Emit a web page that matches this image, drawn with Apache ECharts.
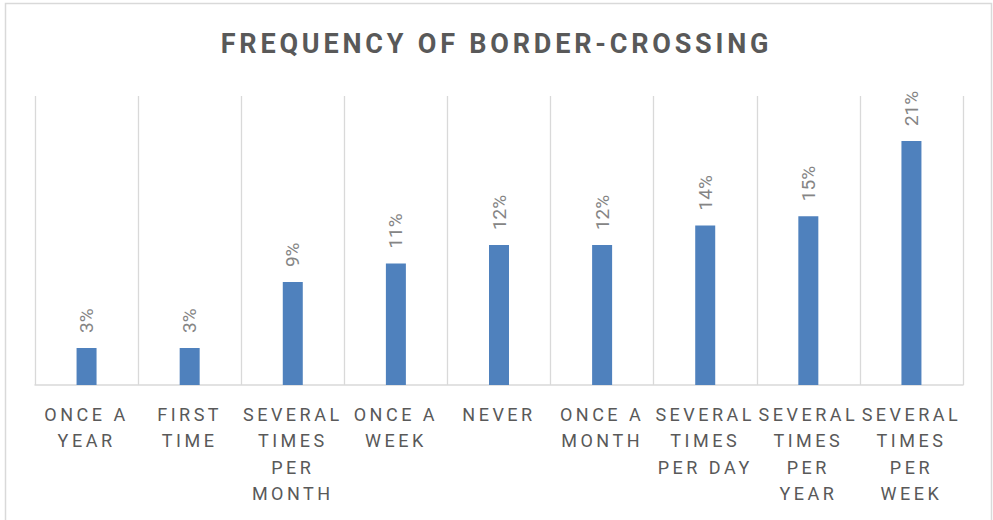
<!DOCTYPE html>
<html>
<head>
<meta charset="utf-8">
<script src="https://cdn.jsdelivr.net/npm/echarts@6/dist/echarts.min.js"></script>
<style>
html,body{margin:0;padding:0;background:#fff;}
#chart{width:993px;height:520px;}
</style>
</head>
<body>
<div id="chart"></div>
<script>
const titleText = 'FREQUENCY OF BORDER-CROSSING';
const categories = [
  'ONCE A\nYEAR',
  'FIRST\nTIME',
  'SEVERAL\nTIMES\nPER\nMONTH',
  'ONCE A\nWEEK',
  'NEVER',
  'ONCE A\nMONTH',
  'SEVERAL\nTIMES\nPER DAY',
  'SEVERAL\nTIMES\nPER\nYEAR',
  'SEVERAL\nTIMES\nPER\nWEEK'
];
const values = [3.2, 3.2, 8.9, 10.5, 12.1, 12.1, 13.8, 14.6, 21.1];

const chart = echarts.init(document.getElementById('chart'), null, {renderer: 'svg'});
chart.setOption({
  animation: false,
  backgroundColor: '#ffffff',
  title: {
    text: titleText,
    left: 'center',
    top: 25,
    textStyle: {fontFamily: 'Roboto', fontWeight: 'bold', fontSize: 27, color: '#595959'}
  },
  graphic: [{
    type: 'rect',
    shape: {x: 5.5, y: 3.5, width: 986, height: 530},
    style: {fill: 'none', stroke: '#d9d9d9', lineWidth: 1.5},
    silent: true
  }],
  grid: {left: 35, right: 30, top: 96, bottom: 135, containLabel: false},
  xAxis: {
    type: 'category',
    data: categories,
    boundaryGap: true,
    axisLine: {show: true, lineStyle: {color: '#d9d9d9', width: 1.5}},
    axisTick: {show: false},
    splitLine: {show: true, lineStyle: {color: '#d9d9d9', width: 1.3}},
    axisLabel: {
      interval: 0,
      margin: 16,
      fontFamily: 'Roboto',
      fontSize: 18,
      lineHeight: 26.5,
      color: '#595959'
    }
  },
  yAxis: {
    type: 'value',
    min: 0,
    max: 25,
    show: false,
    splitLine: {show: false}
  },
  series: [{
    type: 'bar',
    data: values,
    barWidth: 20,
    itemStyle: {color: '#4f81bd'},
    label: {
      show: true,
      position: 'top',
      rotate: 90,
      align: 'left',
      verticalAlign: 'middle',
      distance: 15,
      fontFamily: 'Roboto',
      fontSize: 19,
      color: '#858585',
      formatter: p => Math.round(p.value) + '%'
    }
  }]
});

function spaceText() {
  const texts = document.querySelectorAll('#chart svg text');
  texts.forEach(t => {
    const s = t.textContent || '';
    if (/%$/.test(s)) t.style.letterSpacing = '0px';
    else if (s === titleText) t.style.letterSpacing = '3.8px';
    else t.style.letterSpacing = '3.5px';
  });
}
chart.on('finished', spaceText);
spaceText();
</script>
</body>
</html>
